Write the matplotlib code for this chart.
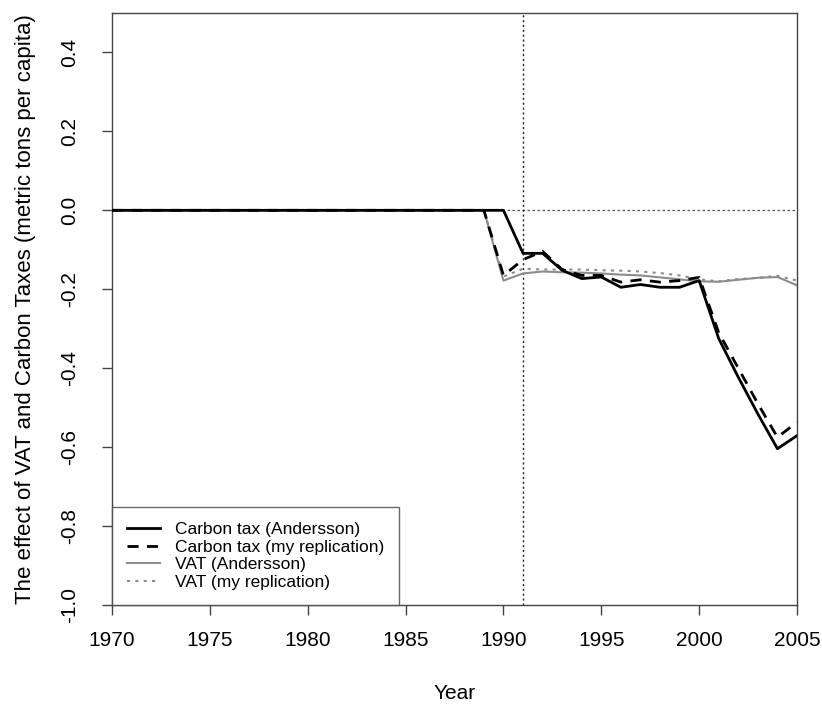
import matplotlib
matplotlib.use("Agg")
import matplotlib.pyplot as plt

plt.rcParams['font.family'] = ['Liberation Sans', 'DejaVu Sans']

years = list(range(1970, 2006))
n_zero = 1989 - 1970 + 1  # zeros from 1970 through 1989

# values after 1989 (1990 .. 2005)
carbon_andersson = [0.0, -0.109, -0.109, -0.152, -0.173, -0.169, -0.195, -0.188,
                    -0.195, -0.195, -0.178, -0.325, -0.423, -0.516, -0.604, -0.571]
carbon_replication = [-0.165, -0.125, -0.104, -0.150, -0.165, -0.165, -0.182, -0.176,
                      -0.182, -0.178, -0.170, -0.310, -0.400, -0.490, -0.575, -0.537]
vat_andersson = [-0.178, -0.160, -0.155, -0.157, -0.158, -0.160, -0.163, -0.165,
                 -0.170, -0.175, -0.180, -0.181, -0.176, -0.171, -0.169, -0.190]
vat_replication = [-0.168, -0.148, -0.150, -0.150, -0.150, -0.152, -0.153, -0.155,
                   -0.159, -0.165, -0.175, -0.180, -0.174, -0.171, -0.166, -0.178]

carbon_a = [0.0] * n_zero + carbon_andersson
carbon_r = [0.0] * n_zero + carbon_replication
vat_a = [0.0] * n_zero + vat_andersson
vat_r = [0.0] * n_zero + vat_replication

fig = plt.figure(figsize=(8.22, 7.09), dpi=100)
ax = fig.add_axes([0.1363, 0.1467, 0.8333, 0.835])

ax.axhline(0, color='#555555', lw=0.9, ls=(0, (2, 2)), zorder=1)
ax.axvline(1991, color='#222222', lw=1.0, ls=(0, (1.5, 2)), zorder=1)

ax.plot(years, carbon_a, color='black', lw=2.0, label='Carbon tax (Andersson)', zorder=4)
ax.plot(years, carbon_r, color='black', lw=2.0, ls=(0, (4, 3)),
        label='Carbon tax (my replication)', zorder=3)
ax.plot(years, vat_a, color='#8c8c8c', lw=1.5, label='VAT (Andersson)', zorder=2)
ax.plot(years, vat_r, color='#8c8c8c', lw=1.5, ls=(0, (1.5, 2.5)),
        label='VAT (my replication)', zorder=2)

ax.set_xlim(1970, 2005)
ax.set_ylim(-1.0, 0.5)
ax.set_xticks(range(1970, 2006, 5))
ax.set_yticks([-1.0, -0.8, -0.6, -0.4, -0.2, 0.0, 0.2, 0.4])
ax.set_yticklabels(['-1.0', '-0.8', '-0.6', '-0.4', '-0.2', '0.0', '0.2', '0.4'],
                   rotation=90, va='center')

for s in ax.spines.values():
    s.set_color('#444444')
    s.set_linewidth(1.0)
ax.tick_params(axis='both', direction='out', length=7, width=1.0, color='#444444',
               labelsize=15)
ax.tick_params(axis='x', pad=12)
ax.tick_params(axis='y', pad=17)

ax.set_xlabel('Year', fontsize=15, labelpad=24)
ax.set_ylabel('The effect of VAT and Carbon Taxes (metric tons per capita)',
              fontsize=16, labelpad=17)

leg = ax.legend(loc='lower left', bbox_to_anchor=(0, 0), fontsize=12.5,
                frameon=True, fancybox=False, handlelength=1.9,
                labelspacing=0.15, borderpad=0.85, borderaxespad=0,
                handletextpad=0.85)
leg.get_frame().set_edgecolor('#444444')
leg.get_frame().set_linewidth(1.0)

fig.savefig('out.png', dpi=100)
